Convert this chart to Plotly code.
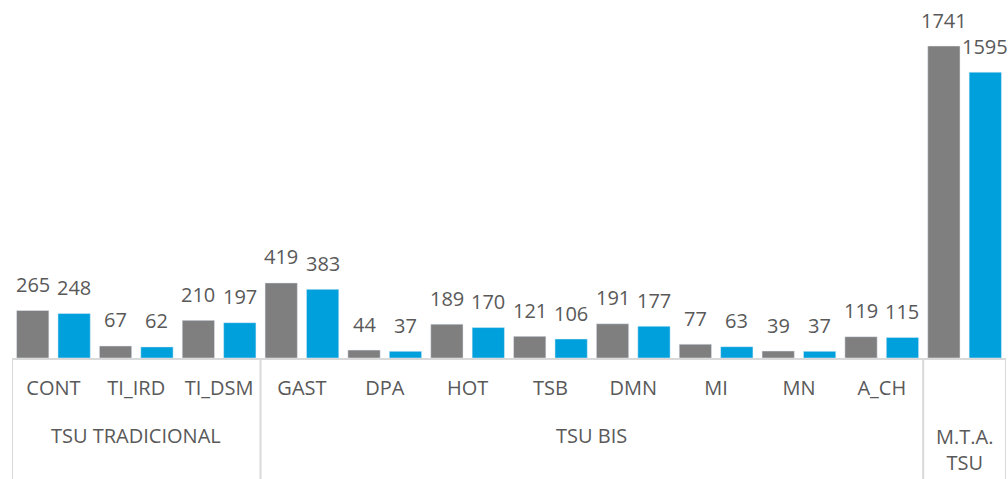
import plotly.graph_objects as go

subcats = ["CONT", "TI_IRD", "TI_DSM", "GAST", "DPA", "HOT", "TSB", "DMN", "MI", "MN", "A_CH", ""]
group_names = ["TSU TRADICIONAL", "TSU BIS", "M.T.A.<br>TSU"]
group_sizes = [3, 8, 1]
series_a = [265, 67, 210, 419, 44, 189, 121, 191, 77, 39, 119, 1741]
series_b = [248, 62, 197, 383, 37, 170, 106, 177, 63, 37, 115, 1595]

gray = "#7F7F7F"
blue = "#00A0DC"
txt = "#595959"
line_c = "#D9D9D9"
font = "Open Sans"

x = list(range(len(subcats)))

fig = go.Figure()
fig.add_trace(go.Bar(x=x, y=series_a, marker_color=gray, name="A", hoverinfo="skip"))
fig.add_trace(go.Bar(x=x, y=series_b, marker_color=blue, name="B", hoverinfo="skip"))

annots = []
for vals, dx in ((series_a, -20.7), (series_b, 20.7)):
    for xi, v in zip(x, vals):
        annots.append(dict(x=xi, y=v, text=str(v), showarrow=False, xshift=dx, yshift=26,
                           font=dict(size=20, color=txt, family=font), xref="x", yref="y"))

shapes = []
start = -0.5
shapes.append(dict(type="line", xref="x", yref="paper", x0=start, x1=start, y0=0, y1=-0.36,
                   line=dict(color=line_c, width=2)))
for name, n in zip(group_names, group_sizes):
    end = start + n
    center = (start + end) / 2
    ypos = -0.2615 if "<br>" in name else -0.224
    annots.append(dict(x=center, y=ypos, xref="x", yref="paper", text=name, showarrow=False,
                       yanchor="middle", font=dict(size=20, color=txt, family=font)))
    shapes.append(dict(type="line", xref="x", yref="paper", x0=end, x1=end, y0=0, y1=-0.36,
                       line=dict(color=line_c, width=2)))
    start = end

fig.update_layout(
    width=1008, height=479,
    margin=dict(l=12, r=2, t=10, b=121),
    plot_bgcolor="white", paper_bgcolor="white",
    barmode="group", bargap=0, bargroupgap=0.22,
    showlegend=False,
    annotations=annots,
    shapes=shapes,
    font=dict(family=font, color=txt, size=20),
)
fig.update_xaxes(range=[-0.5, len(subcats) - 0.5], tickmode="array", tickvals=x, ticktext=subcats,
                 showline=True, linecolor=line_c, linewidth=2, showgrid=False, zeroline=False,
                 ticks="", ticklabelstandoff=11, tickfont=dict(size=20, color=txt, family=font))
fig.update_yaxes(range=[0, 1942], visible=False, showgrid=False, zeroline=False)

fig.write_html("out.html", config={"displayModeBar": False},
               post_script="document.body.style.margin='0';document.body.style.overflow='hidden';")
